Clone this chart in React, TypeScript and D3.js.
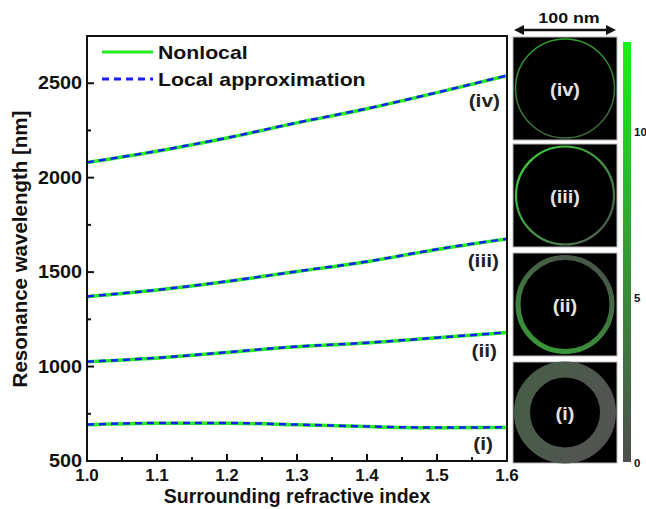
import React from 'react';
import * as d3 from 'd3';

const index = [1.0, 1.1, 1.2, 1.3, 1.4, 1.5, 1.6];
const modeIV = [2080, 2140, 2210, 2290, 2365, 2450, 2540];
const modeIII = [1370, 1405, 1450, 1503, 1555, 1620, 1675];
const modeII = [1025, 1045, 1075, 1105, 1125, 1152, 1180];
const modeI = [692, 700, 700, 692, 682, 676, 678];
const localIV = [2081, 2141, 2211, 2291, 2366, 2451, 2541];
const localIII = [1371, 1406, 1451, 1504, 1556, 1621, 1676];
const localII = [1026, 1046, 1076, 1106, 1126, 1153, 1181];
const localI = [693, 701, 701, 693, 683, 677, 679];
const modeLabels = ['(iv)', '(iii)', '(ii)', '(i)'];
const yTicks = [500, 1000, 1500, 2000, 2500];
const xTicks = [1.0, 1.1, 1.2, 1.3, 1.4, 1.5, 1.6];
const barTicks = [0, 5, 10];

const W = 646;
const H = 509;
const m = { left: 87, right: 507, top: 36, bottom: 461 };
const font = '"Liberation Sans", Arial, sans-serif';

const App: React.FC = () => {
  const x = d3.scaleLinear().domain([1.0, 1.6]).range([m.left, m.right]);
  const y = d3.scaleLinear().domain([500, 2750]).range([m.bottom, m.top]);
  const line = d3.line<number>()
    .x((d, i) => x(index[i]))
    .y(d => y(d))
    .curve(d3.curveMonotoneX);

  const nonlocal = [modeIV, modeIII, modeII, modeI];
  const local = [localIV, localIII, localII, localI];
  // label anchors below each curve's right end
  const labelPos = [[500, 2372], [499, 1525], [497, 1052], [493, 558]];

  const minorY = d3.range(750, 2750, 500);
  const minorX = d3.range(1.05, 1.6, 0.1);

  // right-hand field maps
  const boxes = [[37, 140], [144, 247], [253, 356], [362, 463]];
  const bar = d3.scaleLinear().domain([0, 12.7]).range([462, 42]);

  return (
    <svg width={W} height={H} style={{ position: 'absolute', left: 0, top: 0 }}
      fontFamily={font} fontWeight="bold">
      <defs>
        <linearGradient id="cbar" x1="0" y1="1" x2="0" y2="0">
          <stop offset="0" stopColor="#4d4d4d" />
          <stop offset="0.4" stopColor="#3a8a3a" />
          <stop offset="1" stopColor="#12f512" />
        </linearGradient>
        <linearGradient id="ringIV" x1="0" y1="0" x2="0.3" y2="1">
          <stop offset="0" stopColor="#2ca82c" />
          <stop offset="1" stopColor="#3d6a3d" />
        </linearGradient>
        <linearGradient id="ringIII" x1="0" y1="0.3" x2="0.8" y2="1">
          <stop offset="0" stopColor="#3acc3a" />
          <stop offset="1" stopColor="#4f5f4f" />
        </linearGradient>
        <linearGradient id="ringII" x1="0" y1="1" x2="0.4" y2="0">
          <stop offset="0" stopColor="#36a036" />
          <stop offset="1" stopColor="#485848" />
        </linearGradient>
        <linearGradient id="ringI" x1="0" y1="0" x2="1" y2="0.4">
          <stop offset="0" stopColor="#465e46" />
          <stop offset="1" stopColor="#525452" />
        </linearGradient>
      </defs>
      <rect width={W} height={H} fill="#fff" />

      {/* curves */}
      {nonlocal.map((s, k) => (
        <path key={'n' + k} d={line(s) || ''} fill="none" stroke="#22ee22" strokeWidth={3.5} />
      ))}
      {local.map((s, k) => (
        <path key={'l' + k} d={line(s) || ''} fill="none" stroke="#1a1aff" strokeWidth={2.5}
          strokeDasharray="7 5" />
      ))}
      {modeLabels.map((t, k) => (
        <text key={t} textAnchor="end" fontSize={19} fill="#222"
          transform={`translate(${labelPos[k][0]},${y(labelPos[k][1])}) scale(1.1,1)`}>{t}</text>
      ))}

      {/* frame and ticks */}
      <rect x={m.left} y={m.top} width={m.right - m.left} height={m.bottom - m.top}
        fill="none" stroke="#111" strokeWidth={2} />
      {yTicks.map(t => (
        <g key={t}>
          <line x1={m.left} x2={m.left + 7} y1={y(t)} y2={y(t)} stroke="#111" strokeWidth={2} />
          <text textAnchor="end" fontSize={18} fill="#111"
            transform={`translate(82,${y(t) + 6}) scale(1.1,1)`}>{t}</text>
        </g>
      ))}
      {minorY.map(t => (
        <line key={t} x1={m.left} x2={m.left + 4} y1={y(t)} y2={y(t)} stroke="#111" strokeWidth={2} />
      ))}
      {xTicks.map(t => (
        <g key={t}>
          <line x1={x(t)} x2={x(t)} y1={m.bottom} y2={m.bottom - 7} stroke="#111" strokeWidth={2} />
          <text x={x(t)} y={481} textAnchor="middle" fontSize={17} fill="#111">{t.toFixed(1)}</text>
        </g>
      ))}
      {minorX.map(t => (
        <line key={t} x1={x(t)} x2={x(t)} y1={m.bottom} y2={m.bottom - 4} stroke="#111" strokeWidth={2} />
      ))}
      <text x={297} y={503} textAnchor="middle" fontSize={19.5} fill="#111">Surrounding refractive index</text>
      <text transform={`translate(27,249) rotate(-90)`} textAnchor="middle" fontSize={20.5}
        fill="#111">Resonance wavelength [nm]</text>

      {/* legend */}
      <line x1={102} x2={153} y1={52} y2={52} stroke="#22ee22" strokeWidth={3} />
      <line x1={102} x2={153} y1={79} y2={79} stroke="#1a1aff" strokeWidth={3} strokeDasharray="7 5" />
      <g fontSize={18} fill="#111">
        <text transform="translate(158,59) scale(1.18,1)">Nonlocal</text>
        <text transform="translate(158,86) scale(1.18,1)">Local approximation</text>
      </g>

      {/* scale arrow */}
      <line x1={522} x2={608} y1={30} y2={30} stroke="#111" strokeWidth={2.5} />
      <path d="M514,30 L524,25 L524,35 Z M616,30 L606,25 L606,35 Z" fill="#111" />
      <text textAnchor="middle" fontSize={15.5} fill="#111"
        transform="translate(569,23) scale(1.15,1)">100 nm</text>

      {/* mode maps */}
      {boxes.map(([y0, y1], k) => {
        const cx = 565;
        const cy = (y0 + y1) / 2;
        return (
          <g key={k}>
            <rect x={513} y={y0} width={104} height={y1 - y0} fill="#000" stroke="#b8b8b8" strokeWidth={1} />
            {k === 0 && <circle cx={cx} cy={cy} r={49.5} fill="none" stroke="url(#ringIV)" strokeWidth={1.5} />}
            {k === 1 && <circle cx={cx} cy={cy} r={49} fill="none" stroke="url(#ringIII)" strokeWidth={2.2} />}
            {k === 2 && <circle cx={cx} cy={cy} r={47} fill="none" stroke="url(#ringII)" strokeWidth={5} />}
            {k === 3 && <circle cx={cx} cy={cy} r={43} fill="none" stroke="url(#ringI)" strokeWidth={16} />}
            <text textAnchor="middle" fontSize={19} fill="#e4e4e4"
              transform={`translate(${cx},${cy + 7}) scale(1.05,1)`}>{modeLabels[k]}</text>
          </g>
        );
      })}

      {/* colour bar */}
      <rect x={623} y={bar(12.7)} width={8} height={bar(0) - bar(12.7)} fill="url(#cbar)" />
      {barTicks.map(t => (
        <text key={t} x={634} y={bar(t) + 5} fontSize={11.5} fill="#111">{t}</text>
      ))}
    </svg>
  );
};

export default App;
